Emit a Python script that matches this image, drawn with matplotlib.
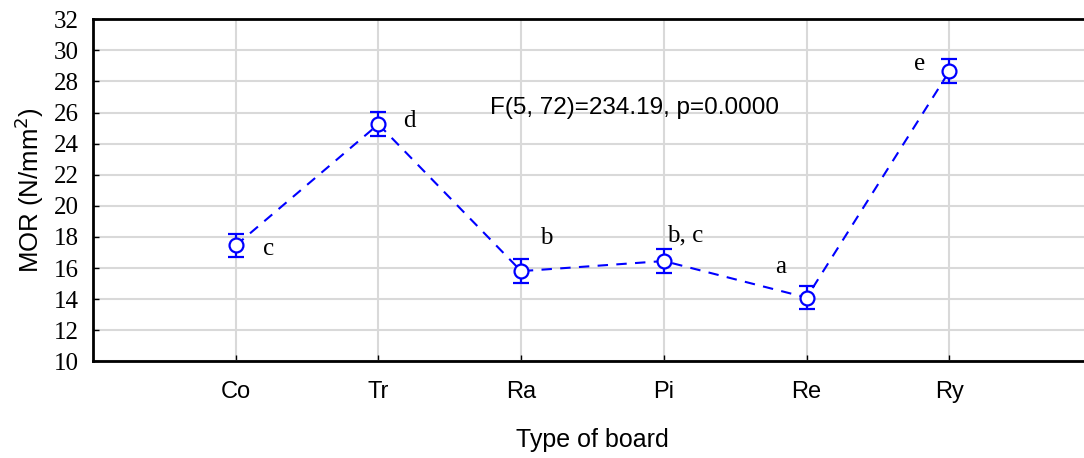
import matplotlib.pyplot as plt

boards = ["Co", "Tr", "Ra", "Pi", "Re", "Ry"]
mor_mean = [17.45, 25.25, 15.8, 16.45, 14.1, 28.65]
mor_err = [0.75, 0.77, 0.75, 0.75, 0.75, 0.77]
groups = ["c", "d", "b", "b, c", "a", "e"]
group_x = [1.19, 2.17, 3.13, 4.02, 4.78, 5.75]
group_y = [17.25, 25.45, 17.95, 18.1, 16.05, 29.15]
y_ticks = list(range(10, 33, 2))

fig = plt.figure(figsize=(10.84, 4.58), dpi=100)
ax = fig.add_axes([93 / 1084, 96.7 / 458, 999 / 1084, 342 / 458])

x = list(range(1, len(boards) + 1))
ax.plot(x, mor_mean, ls="--", color="#0000ff", lw=1.5, dashes=(5, 4), zorder=3)
ax.errorbar(
    x,
    mor_mean,
    yerr=mor_err,
    fmt="o",
    color="#0000ff",
    mfc="white",
    mec="#0000ff",
    ms=10,
    mew=1.6,
    elinewidth=1.6,
    capsize=6,
    capthick=1.6,
    zorder=4,
)

for gx, gy, g in zip(group_x, group_y, groups):
    ax.text(gx, gy, g, fontsize=18, family="Liberation Serif", va="center", ha="left")

ax.text(2.78, 26.3, "F(5, 72)=234.19, p=0.0000", fontsize=17.5,
        family="Liberation Sans", va="center", ha="left")

ax.set_xlim(0, 7)
ax.set_ylim(10, 32)
ax.set_xticks(x)
ax.set_xticklabels(boards, family="Liberation Sans", fontsize=17)
ax.set_yticks(y_ticks)
ax.set_yticklabels([str(t) for t in y_ticks], family="Liberation Serif", fontsize=18)
ax.tick_params(direction="in", length=4, width=1)
ax.tick_params(axis="y", pad=10)
ax.tick_params(axis="x", pad=14)

ax.grid(True, color="#d9d9d9", lw=1.5, zorder=0)
ax.set_axisbelow(True)
for side in ["left", "bottom", "top"]:
    ax.spines[side].set_linewidth(2)
ax.spines["right"].set_visible(False)

ax.set_ylabel("MOR (N/mm$^2$)", family="Liberation Sans", fontsize=18.5, labelpad=6)
ax.set_xlabel("Type of board", family="Liberation Sans", fontsize=18, labelpad=18)

fig.savefig("out.png", dpi=100)
